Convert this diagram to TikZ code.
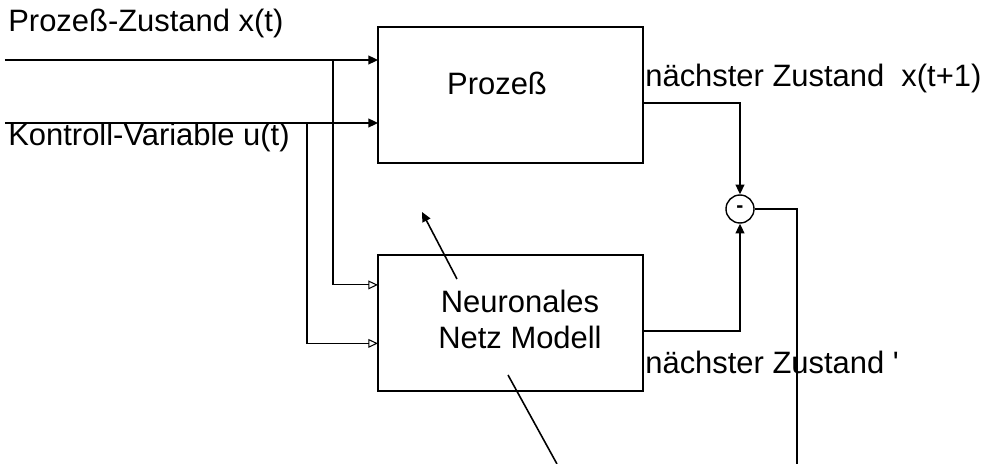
\documentclass[tikz,border=0pt]{standalone}
\usepackage{fontspec}
\setmainfont{Liberation Sans}
\usetikzlibrary{arrows.meta,calc}

\begin{document}
\begin{tikzpicture}[scale=0.2]
				\tikzstyle{every node}+=[inner sep=0pt,font=\fontsize{17.6}{20.5}\selectfont]
				\tikzstyle{blk}=[draw,line width=1.1pt,outer sep=0pt,minimum width=5.3cm,minimum height=2.72cm]
				\tikzstyle{fwd}=[line width=1.1pt,-{Triangle[length=5.5pt,width=5pt]}]
				\tikzstyle{nnin}=[line width=0.6pt,-{Triangle[open,length=5.5pt,width=5pt]}]
				\useasboundingbox (0,0) rectangle (99.4,-46.4);
				\node [blk] (proc) at (51.05,-9.5) {};
				\node [blk] (nn) at (51.05,-32.3) {};
				\node [draw,circle,line width=0.8pt,minimum size=0.56cm] (sum) at (74.0,-20.9) {\fontsize{12}{12}\selectfont\textbf{-}};
				\node [anchor=base west] (xlab) at (0.8,-3.2) {Prozeß-Zustand x(t)};
				\node [anchor=base west] (ulab) at (0.8,-14.6) {Kontroll-Variable u(t)};
				\node [anchor=base] (plab) at (49.7,-9.5) {Prozeß};
				\node [align=center] (nnlab) at (52.0,-31.9) {Neuronales\\Netz Modell};
				\node [anchor=base west] (nxlab) at (64.5,-8.7) {nächster Zustand\ \ x(t+1)};
				\node [anchor=base west] (nmlab) at (64.5,-37.3) {nächster Zustand \textquotesingle};
				\coordinate (xin) at (0.5,-6.0);
				\coordinate (uin) at (0.5,-12.3);
				\coordinate (xbr) at (33.3,-6.0);
				\coordinate (ubr) at (30.7,-12.3);
				\draw [fwd] (xin) -- (xin -| proc.west);
				\draw [fwd] (uin) -- (uin -| proc.west);
				\draw [nnin] (xbr) |- ($(nn.north west)!0.22!(nn.south west)$);
				\draw [nnin] (ubr) |- ($(nn.north west)!0.65!(nn.south west)$);
				\draw [fwd,line width=0.9pt] ($(proc.north east)!0.56!(proc.south east)$) -| (sum.north);
				\draw [fwd,line width=0.9pt] ($(nn.north east)!0.56!(nn.south east)$) -| (sum.south);
				\coordinate (err) at (79.7,-46.4);
				\draw [line width=0.6pt] (sum.east) -| (err);
				\coordinate (ptra) at (45.7,-27.9);
				\coordinate (ptrb) at (42.2,-21.2);
				\draw [fwd,line width=0.9pt] (ptra) -- (ptrb);
				\coordinate (ptrc) at (50.8,-37.5);
				\coordinate (ptrd) at (55.7,-46.4);
				\draw [line width=0.9pt] (ptrc) -- (ptrd);
\end{tikzpicture}
\end{document}
